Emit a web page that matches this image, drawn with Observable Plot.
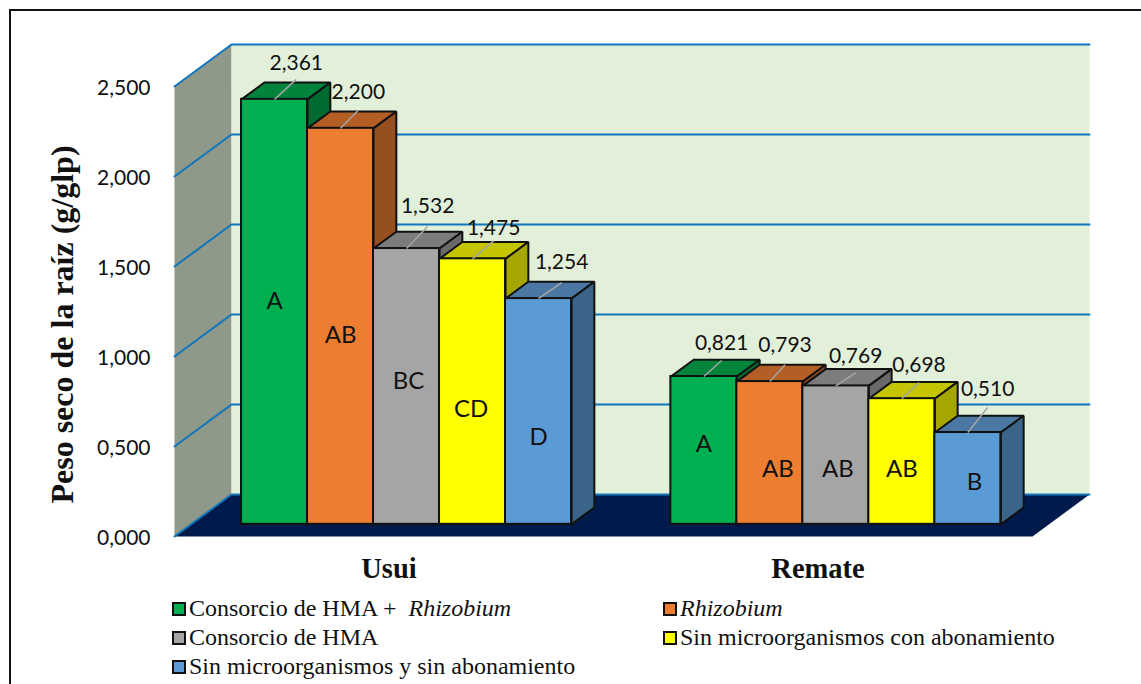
<!DOCTYPE html>
<html lang="es">
<head>
<meta charset="utf-8">
<title>Peso seco de la raíz</title>
<script src="https://cdn.jsdelivr.net/npm/d3@7"></script>
<script src="https://cdn.jsdelivr.net/npm/@observablehq/plot@0.6"></script>
<style>
  html, body { margin: 0; padding: 0; width: 1141px; height: 684px; overflow: hidden; background: #fff; }
  svg { display: block; }
  #frame { position: absolute; left: 9px; top: 9px; width: 1200px; height: 760px; border: 2px solid #111; pointer-events: none; }
  #legend { display: grid; grid-template-columns: 491px 1fr; grid-auto-rows: 29px; margin: 4px 0 0 172px;
            font: 24px "Liberation Serif", serif; color: #111; }
  #legend div { display: flex; align-items: center; white-space: pre; }
  #legend span.key { width: 10px; height: 10px; border: 2px solid #111; margin-right: 3px; flex: none; }
</style>
</head>
<body>
<div id="chart"></div>
<div id="legend"></div>
<div id="frame"></div>
<script>
// Measured dry root weight per site and treatment
const sites = ["Usui", "Remate"];
const treatments = [
  "Consorcio de HMA + Rhizobium",
  "Rhizobium",
  "Consorcio de HMA",
  "Sin microorganismos con abonamiento",
  "Sin microorganismos y sin abonamiento"
];
const usuiValues = [2.361, 2.200, 1.532, 1.475, 1.254];
const remateValues = [0.821, 0.793, 0.769, 0.698, 0.510];
const usuiLetters = ["A", "AB", "BC", "CD", "D"];
const remateLetters = ["A", "AB", "AB", "AB", "B"];
const yTicks = [0, 0.5, 1, 1.5, 2, 2.5];

// Shades of each bar: front, top and side faces
const frontColors = ["#00b050", "#ed7d31", "#a5a5a5", "#ffff00", "#5b9bd5"];
const topColors = ["#00843c", "#b25e25", "#7c7c7c", "#c4c400", "#4a78a2"];
const sideColors = ["#006b30", "#964f1f", "#696969", "#a6a600", "#3a6488"];

// Label placement, in x slots and y units relative to the top of each bar
const labelShiftX = [[0.33, 0.27, 0.32, 0.32, 0.35], [0.27, 0.23, 0.30, 0.26, 0.30]];
const labelRise = [[0.200, 0.200, 0.233, 0.167, 0.200], [0.183, 0.200, 0.167, 0.183, 0.239]];
const leaderRise = [[0.111, 0.100, 0.122, 0.100, 0.089], [0.089, 0.094, 0.072, 0.089, 0.139]];
const letterLevel = [[1.239, 1.050, 0.794, 0.639, 0.483], [0.444, 0.306, 0.306, 0.306, 0.233]];
const letterShiftX = [[0, 0, 0.03, -0.02, 0], [0, 0.12, 0.03, 0, 0.1]];

// Oblique projection: depth z (0 front, 1 back) moves a point along the floor's diagonal
const slots = 13;
const depthX = 0.864;
const depthY = 0.2333;
const zFront = 0.29;
const zBack = 0.69;
const project = (x, y, z) => ({x: x + z * depthX, y: y + z * depthY});

// Closed polygon as a list of points carrying its id and colour
const polygon = (id, color, points) =>
  [...points, points[0]].map((p) => ({...p, id, color}));

const siteStart = [0.765, 7.27];
const siteValues = [usuiValues, remateValues];
const siteLetters = [usuiLetters, remateLetters];

const bars = sites.flatMap((site, s) =>
  siteValues[s].map((value, t) => ({
    site, value, t,
    x1: siteStart[s] + t,
    x2: siteStart[s] + t + 1,
    letter: siteLetters[s][t],
    labelShift: labelShiftX[s][t],
    labelLift: labelRise[s][t],
    leaderLift: leaderRise[s][t],
    letterY: letterLevel[s][t],
    letterShift: letterShiftX[s][t]
  }))
);

const walls = [
  ...polygon("side", "#8e998a", [project(0, 0, 0), project(0, 2.5, 0), project(0, 2.5, 1), project(0, 0, 1)]),
  ...polygon("back", "#e2efd9", [project(0, 0, 1), project(0, 2.5, 1), project(slots, 2.5, 1), project(slots, 0, 1)]),
  ...polygon("floor", "#001a4b", [project(0, 0, 0), project(0, 0, 1), project(slots, 0, 1), project(slots, 0, 0)])
];

const grid = yTicks.flatMap((v) => [
  {...project(0, v, 0), v},
  {...project(0, v, 1), v},
  {...project(slots, v, 1), v}
]);

// Top and side faces of one bar; the front face is drawn as a rect
const barFaces = (b) => [
  ...polygon("top", topColors[b.t], [
    project(b.x1, b.value, zFront), project(b.x1, b.value, zBack),
    project(b.x2, b.value, zBack), project(b.x2, b.value, zFront)
  ]),
  ...polygon("side", sideColors[b.t], [
    project(b.x2, 0, zFront), project(b.x2, b.value, zFront),
    project(b.x2, b.value, zBack), project(b.x2, 0, zBack)
  ])
];

const frontX = (x) => project(x, 0, zFront).x;
const frontY = (y) => project(0, y, zFront).y;
const midX = (b) => frontX((b.x1 + b.x2) / 2);
const comma = (v) => d3.format(".3f")(v).replace(".", ",");
const labelFont = {fontFamily: "Lato, sans-serif", fontSize: 21, fill: "#111"};

const chart = Plot.plot({
  width: 1141,
  height: 590,
  marginLeft: 174,
  marginRight: 109,
  marginTop: 86,
  marginBottom: 54,
  style: {background: "none"},
  x: {domain: [0, slots], axis: null},
  y: {domain: [0, 2.5], axis: null},
  color: {type: "identity"},
  marks: [
    Plot.line(walls, {x: "x", y: "y", z: "id", fill: "color", stroke: "none"}),
    Plot.line(grid, {x: "x", y: "y", z: "v", stroke: "#0f75bc", strokeWidth: 2, strokeLinejoin: "miter"}),
    ...bars.flatMap((b) => [
      Plot.line(barFaces(b), {x: "x", y: "y", z: "id", fill: "color", stroke: "#111", strokeWidth: 2, strokeLinejoin: "miter"}),
      Plot.rect([b], {
        x1: (d) => frontX(d.x1),
        x2: (d) => frontX(d.x2),
        y1: () => frontY(0),
        y2: (d) => frontY(d.value),
        fill: frontColors[b.t],
        stroke: "#111",
        strokeWidth: 2
      })
    ]),
    Plot.link(bars, {
      x1: midX,
      y1: (d) => frontY(d.value),
      x2: (d) => midX(d) + d.labelShift,
      y2: (d) => frontY(d.value) + d.leaderLift,
      stroke: "#a6a6a6",
      strokeWidth: 1.5
    }),
    Plot.text(bars, {
      x: (d) => midX(d) + d.labelShift,
      y: (d) => frontY(d.value) + d.labelLift,
      text: (d) => comma(d.value),
      ...labelFont
    }),
    Plot.text(bars, {
      x: (d) => midX(d) + d.letterShift,
      y: (d) => frontY(d.letterY),
      text: "letter",
      ...labelFont,
      fontSize: 24
    }),
    Plot.axisY({
      ticks: yTicks,
      tickFormat: comma,
      tickSize: 0,
      tickPadding: 24,
      dy: 1.5,
      label: null,
      ...labelFont
    }),
    Plot.axisX({
      ticks: [slots / 4, (3 * slots) / 4],
      tickFormat: (x) => sites[x < slots / 2 ? 0 : 1],
      tickSize: 0,
      tickPadding: 21,
      label: null,
      fontFamily: "Liberation Serif, serif",
      fontWeight: "bold",
      fontSize: 28.5,
      fill: "#111"
    }),
    Plot.text(["Peso seco de la raíz (g/glp)"], {
      frameAnchor: "left",
      textAnchor: "middle",
      rotate: -90,
      dx: -112,
      dy: 13,
      fontFamily: "Liberation Serif, serif",
      fontWeight: "bold",
      fontSize: 32,
      fill: "#111"
    })
  ]
});
document.getElementById("chart").append(chart);

// Legend, two columns, with the bacterial genus in italics
const legend = d3.select("#legend");
treatments.forEach((name, i) => {
  const row = legend.append("div");
  row.append("span").attr("class", "key").style("background", frontColors[i]);
  const genus = "Rhizobium";
  if (name.includes(genus)) {
    const before = name.replace(genus, "");
    if (before) row.append("span").text(before + " ");
    row.append("i").text(genus);
  } else {
    row.append("span").text(name);
  }
});
</script>
</body>
</html>
